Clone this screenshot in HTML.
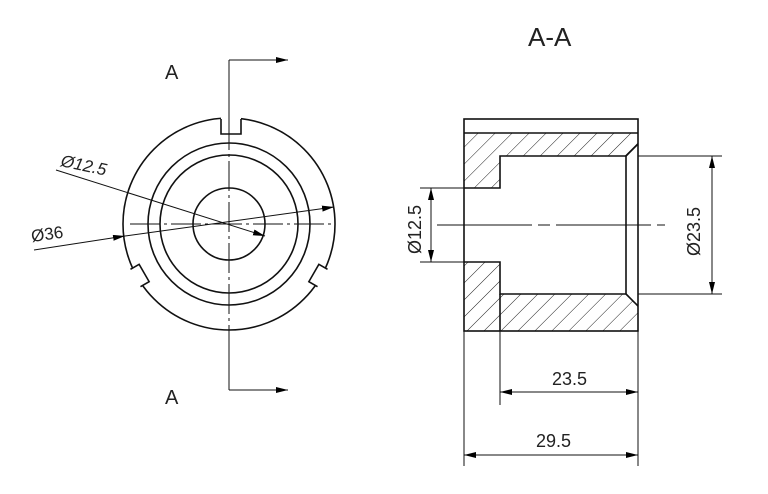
<!DOCTYPE html>
<html><head><meta charset="utf-8"><style>body{margin:0;background:#fff}svg{display:block}</style></head><body>
<svg width="768" height="494" viewBox="0 0 768 494" xmlns="http://www.w3.org/2000/svg" font-family="Liberation Sans Narrow, Liberation Sans, sans-serif">
<defs>
<marker id="ar" viewBox="0 0 12 6" refX="12" refY="3" markerWidth="12" markerHeight="6" orient="auto-start-reverse" markerUnits="userSpaceOnUse"><path d="M0,0L12,3L0,6z" fill="#000"/></marker>
<pattern id="h" width="12" height="12" patternUnits="userSpaceOnUse" patternTransform="rotate(45)"><line x1="0" y1="0" x2="0" y2="12" stroke="#222" stroke-width="1"/></pattern>
</defs>
<g fill="none" stroke="#111" stroke-width="1.6">
<circle cx="229" cy="224" r="106"/>
<rect x="221" y="116" width="20" height="4" fill="#fff" stroke="none"/>
<path d="M221,119 L221,134 L241,134 L241,119" />
<g transform="rotate(-30 229 224)"><rect x="113" y="214" width="16" height="20" fill="#fff" stroke="none"/><path d="M121,214 L131,214 L131,234 L121,234"/></g>
<g transform="rotate(30 229 224)"><rect x="329" y="214" width="16" height="20" fill="#fff" stroke="none"/><path d="M337,214 L327,214 L327,234 L337,234"/></g>
<circle cx="229" cy="224" r="81"/>
<circle cx="229" cy="224" r="69"/>
<circle cx="229" cy="224" r="36"/>
</g>
<g stroke="#111" stroke-width="1" fill="none">
<line x1="229" y1="60" x2="229" y2="120"/>
<line x1="229" y1="120" x2="229" y2="333" stroke-dasharray="30,4,3,4"/>
<line x1="229" y1="333" x2="229" y2="390"/>
<line x1="229" y1="60" x2="288" y2="60" marker-end="url(#ar)"/>
<line x1="229" y1="390" x2="288" y2="390" marker-end="url(#ar)"/>
<line x1="130" y1="224" x2="332" y2="224" stroke-dasharray="30,4,3,4"/>
<line x1="56" y1="170" x2="265" y2="236" marker-end="url(#ar)"/>
<line x1="34" y1="250" x2="125" y2="236" marker-end="url(#ar)"/>
<line x1="125" y1="236" x2="334" y2="207" marker-end="url(#ar)"/>
</g>
<text x="165" y="79" font-size="20" fill="#222">A</text>
<text x="165" y="404" font-size="20" fill="#222">A</text>
<text x="60" y="166" font-size="17" fill="#222" transform="rotate(12 60 166)" font-style="italic">Ø12.5</text>
<text x="32" y="242" font-size="17" fill="#222" transform="rotate(-8 32 242)">Ø36</text>
<!-- section -->
<text x="528" y="46" font-size="26" fill="#222">A-A</text>
<path d="M464,133 H638 V144 L626,156 H500 V188 H464 Z" fill="url(#h)" stroke="none"/>
<path d="M464,262 H500 V294 H626 L638,306 V331 H464 Z" fill="url(#h)" stroke="none"/>
<g fill="none" stroke="#111" stroke-width="1.6">
<rect x="464" y="119" width="174" height="212"/>
<line x1="464" y1="133" x2="638" y2="133"/>
<path d="M464,188 H500 V156 H626 V294 H500 V262 H464"/>
<line x1="500" y1="294" x2="500" y2="331"/>
<line x1="626" y1="156" x2="638" y2="144"/>
<line x1="626" y1="294" x2="638" y2="306"/>
</g>
<g stroke="#111" stroke-width="1" fill="none">
<line x1="638" y1="156" x2="722" y2="156"/>
<line x1="638" y1="294" x2="722" y2="294"/>
<line x1="712" y1="156" x2="712" y2="294" marker-start="url(#ar)" marker-end="url(#ar)"/>
<line x1="420" y1="188" x2="464" y2="188"/>
<line x1="420" y1="262" x2="464" y2="262"/>
<line x1="431" y1="188" x2="431" y2="262" marker-start="url(#ar)" marker-end="url(#ar)"/>
<line x1="437" y1="225" x2="665" y2="225" stroke-dasharray="95,6,12,6"/>
<line x1="500" y1="331" x2="500" y2="405"/>
<line x1="464" y1="331" x2="464" y2="466"/>
<line x1="638" y1="331" x2="638" y2="466"/>
<line x1="500" y1="392" x2="638" y2="392" marker-start="url(#ar)" marker-end="url(#ar)"/>
<line x1="464" y1="455" x2="638" y2="455" marker-start="url(#ar)" marker-end="url(#ar)"/>
</g>
<text x="552" y="385" font-size="18" fill="#222">23.5</text>
<text x="536" y="447" font-size="18" fill="#222">29.5</text>
<text x="0" y="0" font-size="18" fill="#222" transform="translate(421,254) rotate(-90)">Ø12.5</text>
<text x="0" y="0" font-size="18" fill="#222" transform="translate(700,256) rotate(-90)">Ø23.5</text>
</svg>
</body></html>
